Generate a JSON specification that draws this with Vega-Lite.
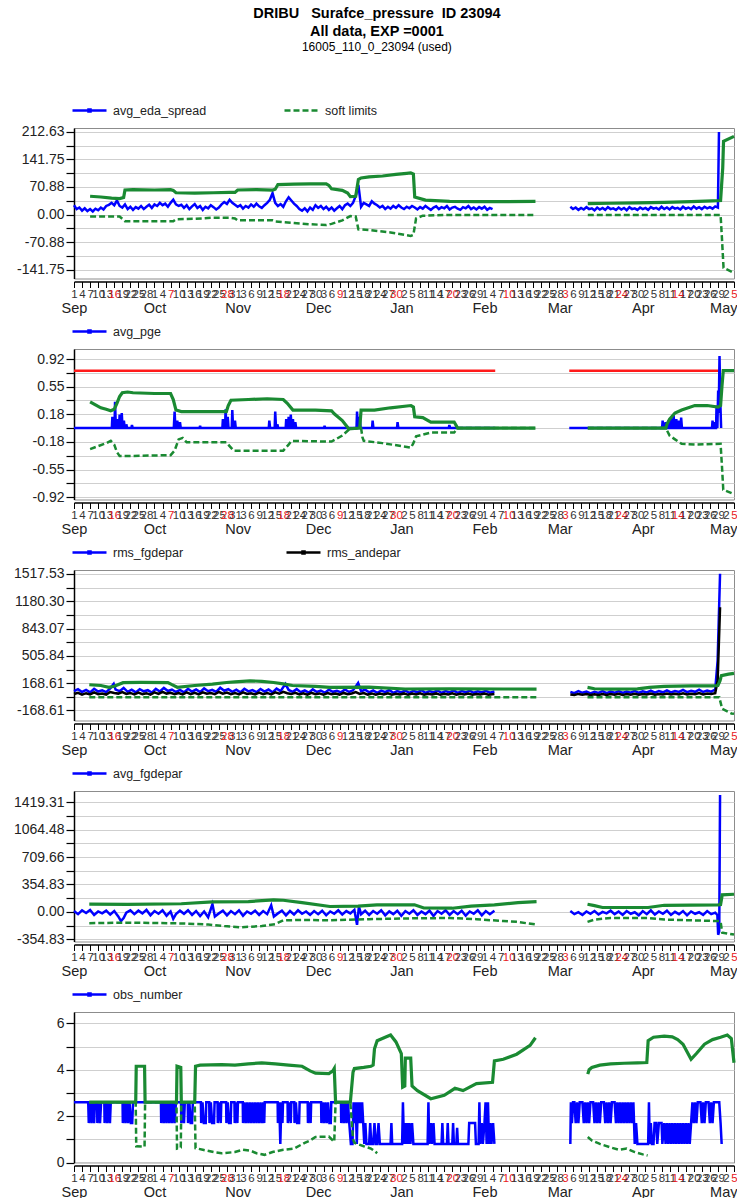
{
"$schema":"https://vega.github.io/schema/vega-lite/v6.json",
"background":"white",
"padding":{"left":12,"top":6,"right":0,"bottom":0},
"autosize":{"type":"pad"},
"bounds":"flush",
"spacing":70,
"title":{"text":["DRIBU\u00a0\u00a0\u00a0Surafce_pressure\u00a0\u00a0ID 23094","All data, EXP =0001"],"subtitle":"16005_110_0_23094 (used)","anchor":"middle","font":"Liberation Sans","fontSize":14.5,"fontWeight":"bold","lineHeight":18,"color":"#000","subtitleFont":"Liberation Sans","subtitleFontSize":12,"subtitleColor":"#000","subtitlePadding":2,"offset":38},
"config":{
 "view":{"stroke":"#8c8c8c","strokeWidth":1},
 "font":"Liberation Sans",
 "axis":{"labelFont":"Liberation Sans","labelColor":"#222","tickColor":"#000","domainColor":"#000","gridColor":"#cfcfcf","gridWidth":1},
 "axisY":{"labelFontSize":14,"tickSize":8,"labelPadding":2,"grid":true,"domainWidth":1.5,"tickWidth":1.2},
 "axisX":{"grid":false},
 "legend":{"orient":"none","legendX":-3,"legendY":-36,"direction":"horizontal","symbolType":"M-1,0H1M-0.06,-0.06H0.06V0.06H-0.06Z","symbolSize":1156,"symbolStrokeWidth":2.5,"labelFontSize":12.5,"labelFont":"Liberation Sans","labelColor":"#222","labelOffset":5,"padding":0}
},
"resolve":{"scale":{"color":"independent","x":"independent","y":"independent"}},
"datasets":{
"b1":[{"x":0,"y":24,"g":1},{"x":1,"y":14,"g":1},{"x":2,"y":18,"g":1},{"x":3,"y":10,"g":1},{"x":4,"y":16,"g":1},{"x":5,"y":9,"g":1},{"x":6,"y":14,"g":1},{"x":7,"y":8,"g":1},{"x":8,"y":15,"g":1},{"x":9,"y":11,"g":1},{"x":10,"y":18,"g":1},{"x":11,"y":13,"g":1},{"x":12,"y":22,"g":1},{"x":13,"y":25,"g":1},{"x":14,"y":30,"g":1},{"x":15,"y":24,"g":1},{"x":16,"y":36,"g":1},{"x":17,"y":22,"g":1},{"x":18,"y":18,"g":1},{"x":19,"y":26,"g":1},{"x":20,"y":14,"g":1},{"x":21,"y":20,"g":1},{"x":22,"y":12,"g":1},{"x":23,"y":19,"g":1},{"x":24,"y":15,"g":1},{"x":25,"y":22,"g":1},{"x":26,"y":14,"g":1},{"x":27,"y":20,"g":1},{"x":28,"y":25,"g":1},{"x":29,"y":17,"g":1},{"x":30,"y":26,"g":1},{"x":31,"y":22,"g":1},{"x":32,"y":30,"g":1},{"x":33,"y":24,"g":1},{"x":34,"y":28,"g":1},{"x":35,"y":20,"g":1},{"x":36,"y":30,"g":1},{"x":37,"y":38,"g":1},{"x":38,"y":26,"g":1},{"x":39,"y":22,"g":1},{"x":40,"y":25,"g":1},{"x":41,"y":17,"g":1},{"x":42,"y":24,"g":1},{"x":43,"y":14,"g":1},{"x":44,"y":21,"g":1},{"x":45,"y":27,"g":1},{"x":46,"y":17,"g":1},{"x":47,"y":22,"g":1},{"x":48,"y":12,"g":1},{"x":49,"y":20,"g":1},{"x":50,"y":16,"g":1},{"x":51,"y":24,"g":1},{"x":52,"y":19,"g":1},{"x":53,"y":13,"g":1},{"x":54,"y":18,"g":1},{"x":55,"y":26,"g":1},{"x":56,"y":32,"g":1},{"x":57,"y":27,"g":1},{"x":58,"y":38,"g":1},{"x":59,"y":30,"g":1},{"x":60,"y":25,"g":1},{"x":61,"y":20,"g":1},{"x":62,"y":24,"g":1},{"x":63,"y":15,"g":1},{"x":64,"y":22,"g":1},{"x":65,"y":18,"g":1},{"x":66,"y":26,"g":1},{"x":67,"y":20,"g":1},{"x":68,"y":28,"g":1},{"x":69,"y":21,"g":1},{"x":70,"y":17,"g":1},{"x":71,"y":24,"g":1},{"x":72,"y":30,"g":1},{"x":73,"y":38,"g":1},{"x":74,"y":55,"g":1},{"x":75,"y":30,"g":1},{"x":76,"y":22,"g":1},{"x":77,"y":27,"g":1},{"x":78,"y":20,"g":1},{"x":79,"y":34,"g":1},{"x":80,"y":44,"g":1},{"x":81,"y":36,"g":1},{"x":82,"y":28,"g":1},{"x":83,"y":22,"g":1},{"x":84,"y":14,"g":1},{"x":85,"y":10,"g":1},{"x":86,"y":16,"g":1},{"x":87,"y":8,"g":1},{"x":88,"y":18,"g":1},{"x":89,"y":12,"g":1},{"x":90,"y":24,"g":1},{"x":91,"y":17,"g":1},{"x":92,"y":22,"g":1},{"x":93,"y":14,"g":1},{"x":94,"y":20,"g":1},{"x":95,"y":12,"g":1},{"x":96,"y":18,"g":1},{"x":97,"y":10,"g":1},{"x":98,"y":16,"g":1},{"x":99,"y":22,"g":1},{"x":100,"y":14,"g":1},{"x":101,"y":24,"g":1},{"x":102,"y":28,"g":1},{"x":103,"y":22,"g":1},{"x":104,"y":30,"g":1},{"x":105,"y":48,"g":1},{"x":106,"y":76,"g":1},{"x":107,"y":20,"g":1},{"x":108,"y":30,"g":1},{"x":109,"y":26,"g":1},{"x":110,"y":22,"g":1},{"x":111,"y":34,"g":1},{"x":112,"y":28,"g":1},{"x":113,"y":24,"g":1},{"x":114,"y":18,"g":1},{"x":115,"y":22,"g":1},{"x":116,"y":14,"g":1},{"x":117,"y":20,"g":1},{"x":118,"y":15,"g":1},{"x":119,"y":22,"g":1},{"x":120,"y":17,"g":1},{"x":121,"y":24,"g":1},{"x":122,"y":18,"g":1},{"x":123,"y":14,"g":1},{"x":124,"y":20,"g":1},{"x":125,"y":16,"g":1},{"x":126,"y":22,"g":1},{"x":127,"y":18,"g":1},{"x":128,"y":13,"g":1},{"x":129,"y":19,"g":1},{"x":130,"y":15,"g":1},{"x":131,"y":22,"g":1},{"x":132,"y":17,"g":1},{"x":133,"y":12,"g":1},{"x":134,"y":18,"g":1},{"x":135,"y":21,"g":1},{"x":136,"y":14,"g":1},{"x":137,"y":19,"g":1},{"x":138,"y":16,"g":1},{"x":139,"y":22,"g":1},{"x":140,"y":13,"g":1},{"x":141,"y":18,"g":1},{"x":142,"y":20,"g":1},{"x":143,"y":15,"g":1},{"x":144,"y":12,"g":1},{"x":145,"y":19,"g":1},{"x":146,"y":16,"g":1},{"x":147,"y":22,"g":1},{"x":148,"y":14,"g":1},{"x":149,"y":18,"g":1},{"x":150,"y":13,"g":1},{"x":151,"y":19,"g":1},{"x":152,"y":15,"g":1},{"x":153,"y":20,"g":1},{"x":154,"y":12,"g":1},{"x":155,"y":17,"g":1},{"x":156,"y":14,"g":1},
{"x":185,"y":20,"g":2},{"x":186,"y":14,"g":2},{"x":187,"y":18,"g":2},{"x":188,"y":12,"g":2},{"x":189,"y":17,"g":2},{"x":190,"y":13,"g":2},{"x":191,"y":19,"g":2},{"x":192,"y":14,"g":2},{"x":193,"y":16,"g":2},{"x":194,"y":11,"g":2},{"x":195,"y":18,"g":2},{"x":196,"y":13,"g":2},{"x":197,"y":17,"g":2},{"x":198,"y":12,"g":2},{"x":199,"y":19,"g":2},{"x":200,"y":14,"g":2},{"x":201,"y":16,"g":2},{"x":202,"y":12,"g":2},{"x":203,"y":18,"g":2},{"x":204,"y":13,"g":2},{"x":205,"y":17,"g":2},{"x":206,"y":11,"g":2},{"x":207,"y":19,"g":2},{"x":208,"y":14,"g":2},{"x":209,"y":16,"g":2},{"x":210,"y":12,"g":2},{"x":211,"y":18,"g":2},{"x":212,"y":14,"g":2},{"x":213,"y":17,"g":2},{"x":214,"y":12,"g":2},{"x":215,"y":19,"g":2},{"x":216,"y":15,"g":2},{"x":217,"y":17,"g":2},{"x":218,"y":13,"g":2},{"x":219,"y":20,"g":2},{"x":220,"y":14,"g":2},{"x":221,"y":18,"g":2},{"x":222,"y":13,"g":2},{"x":223,"y":19,"g":2},{"x":224,"y":15,"g":2},{"x":225,"y":17,"g":2},{"x":226,"y":13,"g":2},{"x":227,"y":20,"g":2},{"x":228,"y":15,"g":2},{"x":229,"y":18,"g":2},{"x":230,"y":14,"g":2},{"x":231,"y":21,"g":2},{"x":232,"y":15,"g":2},{"x":233,"y":19,"g":2},{"x":234,"y":14,"g":2},{"x":235,"y":20,"g":2},{"x":236,"y":16,"g":2},{"x":237,"y":19,"g":2},{"x":238,"y":15,"g":2},{"x":239,"y":21,"g":2},{"x":240,"y":18,"g":2},{"x":240.4,"y":212,"g":2}],
"u1":[{"x":6,"y":47,"g":1},{"x":10,"y":45,"g":1},{"x":14,"y":42,"g":1},{"x":17,"y":41,"g":1},{"x":18.5,"y":44,"g":1},{"x":19,"y":63,"g":1},{"x":22,"y":64,"g":1},{"x":30,"y":63,"g":1},{"x":36,"y":64,"g":1},{"x":37,"y":62,"g":1},{"x":38,"y":56,"g":1},{"x":45,"y":55,"g":1},{"x":52,"y":56,"g":1},{"x":58,"y":57,"g":1},{"x":60,"y":57,"g":1},{"x":61,"y":63,"g":1},{"x":68,"y":64,"g":1},{"x":74,"y":63,"g":1},{"x":75,"y":65,"g":1},{"x":76,"y":77,"g":1},{"x":82,"y":78,"g":1},{"x":88,"y":79,"g":1},{"x":94,"y":79,"g":1},{"x":95,"y":75,"g":1},{"x":96,"y":66,"g":1},{"x":100,"y":62,"g":1},{"x":102,"y":55,"g":1},{"x":103,"y":46,"g":1},{"x":105,"y":47,"g":1},{"x":106,"y":90,"g":1},{"x":107,"y":94,"g":1},{"x":110,"y":97,"g":1},{"x":115,"y":99,"g":1},{"x":120,"y":103,"g":1},{"x":124,"y":106,"g":1},{"x":125.5,"y":107,"g":1},{"x":126.5,"y":104,"g":1},{"x":127,"y":45,"g":1},{"x":131,"y":37,"g":1},{"x":140,"y":34,"g":1},{"x":150,"y":33,"g":1},{"x":160,"y":33,"g":1},{"x":172,"y":34,"g":1},
{"x":191.5,"y":28,"g":2},{"x":200,"y":29,"g":2},{"x":210,"y":30,"g":2},{"x":220,"y":31,"g":2},{"x":230,"y":33,"g":2},{"x":238,"y":35,"g":2},{"x":241,"y":36,"g":2},{"x":241.8,"y":120,"g":2},{"x":242.1,"y":188,"g":2},{"x":246,"y":201,"g":2}],
"l1":[{"x":6,"y":-5,"g":1},{"x":17,"y":-5,"g":1},{"x":19,"y":-17,"g":1},{"x":37,"y":-17,"g":1},{"x":38,"y":-12,"g":1},{"x":45,"y":-11,"g":1},{"x":52,"y":-8,"g":1},{"x":58,"y":-8,"g":1},{"x":60,"y":-10,"g":1},{"x":61,"y":-15,"g":1},{"x":74,"y":-15,"g":1},{"x":75,"y":-18,"g":1},{"x":82,"y":-22,"g":1},{"x":88,"y":-25,"g":1},{"x":94,"y":-27,"g":1},{"x":96,"y":-24,"g":1},{"x":100,"y":-15,"g":1},{"x":103,"y":-4,"g":1},{"x":105,"y":-5,"g":1},{"x":106,"y":-38,"g":1},{"x":110,"y":-40,"g":1},{"x":118,"y":-46,"g":1},{"x":125.5,"y":-55,"g":1},{"x":126.5,"y":-52,"g":1},{"x":127.5,"y":-10,"g":1},{"x":130,"y":-3,"g":1},{"x":140,"y":-1,"g":1},{"x":172,"y":-1,"g":1},
{"x":191.5,"y":-1,"g":2},{"x":241,"y":-1,"g":2},{"x":241.5,"y":-60,"g":2},{"x":242.1,"y":-137,"g":2},{"x":246,"y":-150,"g":2}],
"r2":[{"x":0,"y":0.764,"g":1},{"x":157,"y":0.764,"g":1},{"x":184.6,"y":0.764,"g":2},{"x":241.2,"y":0.764,"g":2}],
"b2":[{"x":0,"y":0,"g":1},{"x":14.1,"y":0,"g":1},{"x":14.3,"y":0.15,"g":1},{"x":14.6,"y":0,"g":1},{"x":15.1,"y":0,"g":1},{"x":15.3,"y":0.35,"g":1},{"x":15.6,"y":0,"g":1},{"x":16,"y":0,"g":1},{"x":16.2,"y":0.12,"g":1},{"x":16.5,"y":0,"g":1},{"x":16.8,"y":0,"g":1},{"x":17,"y":0.18,"g":1},{"x":17.3,"y":0,"g":1},{"x":17.6,"y":0,"g":1},{"x":17.8,"y":0.2,"g":1},{"x":18.1,"y":0,"g":1},{"x":18.4,"y":0,"g":1},{"x":18.6,"y":0.1,"g":1},{"x":18.9,"y":0,"g":1},{"x":19.3,"y":0,"g":1},{"x":19.5,"y":0.05,"g":1},{"x":19.8,"y":0,"g":1},{"x":21.4,"y":0,"g":1},{"x":21.6,"y":0.04,"g":1},{"x":21.9,"y":0,"g":1},{"x":37.2,"y":0,"g":1},{"x":37.5,"y":0.22,"g":1},{"x":37.8,"y":0,"g":1},{"x":38.3,"y":0,"g":1},{"x":38.5,"y":0.1,"g":1},{"x":38.8,"y":0,"g":1},{"x":39.3,"y":0,"g":1},{"x":39.5,"y":0.08,"g":1},{"x":39.8,"y":0,"g":1},{"x":46.8,"y":0,"g":1},{"x":47,"y":0.03,"g":1},{"x":47.2,"y":0,"g":1},{"x":55.3,"y":0,"g":1},{"x":55.5,"y":0.12,"g":1},{"x":55.8,"y":0,"g":1},{"x":56.3,"y":0,"g":1},{"x":56.5,"y":0.25,"g":1},{"x":56.8,"y":0,"g":1},{"x":57.1,"y":0,"g":1},{"x":57.3,"y":0.15,"g":1},{"x":57.6,"y":0,"g":1},{"x":58.8,"y":0,"g":1},{"x":59,"y":0.24,"g":1},{"x":59.3,"y":0,"g":1},{"x":59.8,"y":0,"g":1},{"x":60,"y":0.1,"g":1},{"x":60.3,"y":0,"g":1},{"x":72.6,"y":0,"g":1},{"x":72.8,"y":0.1,"g":1},{"x":73.1,"y":0,"g":1},{"x":74.8,"y":0,"g":1},{"x":75,"y":0.22,"g":1},{"x":75.3,"y":0,"g":1},{"x":75.6,"y":0,"g":1},{"x":75.8,"y":0.05,"g":1},{"x":76.1,"y":0,"g":1},{"x":78.9,"y":0,"g":1},{"x":79.1,"y":0.12,"g":1},{"x":79.4,"y":0,"g":1},{"x":79.8,"y":0,"g":1},{"x":80,"y":0.15,"g":1},{"x":80.3,"y":0,"g":1},{"x":80.6,"y":0,"g":1},{"x":80.8,"y":0.18,"g":1},{"x":81.1,"y":0,"g":1},{"x":81.4,"y":0,"g":1},{"x":81.6,"y":0.12,"g":1},{"x":81.9,"y":0,"g":1},{"x":82.3,"y":0,"g":1},{"x":82.5,"y":0.08,"g":1},{"x":82.8,"y":0,"g":1},{"x":93.2,"y":0,"g":1},{"x":93.4,"y":0.03,"g":1},{"x":93.6,"y":0,"g":1},{"x":105.3,"y":0,"g":1},{"x":105.5,"y":0.22,"g":1},{"x":105.8,"y":0,"g":1},{"x":106.3,"y":0,"g":1},{"x":106.5,"y":0.15,"g":1},{"x":106.8,"y":0,"g":1},{"x":111.1,"y":0,"g":1},{"x":111.3,"y":0.1,"g":1},{"x":111.6,"y":0,"g":1},{"x":120.4,"y":0,"g":1},{"x":120.6,"y":0.08,"g":1},{"x":120.9,"y":0,"g":1},{"x":139.7,"y":0,"g":1},{"x":139.9,"y":0.04,"g":1},{"x":140.2,"y":0,"g":1},{"x":157,"y":0,"g":1},
{"x":184.6,"y":0,"g":2},{"x":219.2,"y":0,"g":2},{"x":219.4,"y":0.1,"g":2},{"x":219.7,"y":0,"g":2},{"x":220.3,"y":0,"g":2},{"x":220.5,"y":0.08,"g":2},{"x":220.8,"y":0,"g":2},{"x":221.3,"y":0,"g":2},{"x":221.5,"y":0.1,"g":2},{"x":221.8,"y":0,"g":2},{"x":222.3,"y":0,"g":2},{"x":222.5,"y":0.13,"g":2},{"x":222.8,"y":0,"g":2},{"x":223.3,"y":0,"g":2},{"x":223.5,"y":0.17,"g":2},{"x":223.8,"y":0,"g":2},{"x":224.3,"y":0,"g":2},{"x":224.5,"y":0.12,"g":2},{"x":224.8,"y":0,"g":2},{"x":225.3,"y":0,"g":2},{"x":225.5,"y":0.1,"g":2},{"x":225.8,"y":0,"g":2},{"x":226.1,"y":0,"g":2},{"x":226.3,"y":0.14,"g":2},{"x":226.6,"y":0,"g":2},{"x":237.8,"y":0,"g":2},{"x":238,"y":0.1,"g":2},{"x":238.3,"y":0,"g":2},{"x":238.5,"y":0,"g":2},{"x":238.7,"y":0.08,"g":2},{"x":239,"y":0,"g":2},{"x":239.3,"y":0,"g":2},{"x":239.5,"y":0.3,"g":2},{"x":239.8,"y":0,"g":2},{"x":240.1,"y":0.5,"g":2},{"x":240.3,"y":0.2,"g":2},{"x":240.6,"y":0.96,"g":2},{"x":240.9,"y":0.35,"g":2},{"x":241.2,"y":0,"g":2}],
"u2":[{"x":6,"y":0.35,"g":1},{"x":8,"y":0.31,"g":1},{"x":10,"y":0.27,"g":1},{"x":12,"y":0.25,"g":1},{"x":13.7,"y":0.23,"g":1},{"x":15,"y":0.25,"g":1},{"x":16,"y":0.33,"g":1},{"x":17,"y":0.42,"g":1},{"x":18,"y":0.47,"g":1},{"x":20,"y":0.48,"g":1},{"x":22,"y":0.47,"g":1},{"x":30,"y":0.46,"g":1},{"x":36,"y":0.46,"g":1},{"x":37,"y":0.38,"g":1},{"x":38,"y":0.24,"g":1},{"x":40,"y":0.22,"g":1},{"x":50,"y":0.22,"g":1},{"x":56.8,"y":0.22,"g":1},{"x":57.5,"y":0.3,"g":1},{"x":58.5,"y":0.37,"g":1},{"x":65,"y":0.38,"g":1},{"x":72,"y":0.39,"g":1},{"x":78,"y":0.38,"g":1},{"x":79.5,"y":0.33,"g":1},{"x":81.6,"y":0.24,"g":1},{"x":90,"y":0.24,"g":1},{"x":96,"y":0.23,"g":1},{"x":97,"y":0.19,"g":1},{"x":100,"y":0.1,"g":1},{"x":102.4,"y":-0.01,"g":1},{"x":106.5,"y":0,"g":1},{"x":107,"y":0.24,"g":1},{"x":112,"y":0.24,"g":1},{"x":118,"y":0.27,"g":1},{"x":125.6,"y":0.3,"g":1},{"x":126.5,"y":0.28,"g":1},{"x":127,"y":0.15,"g":1},{"x":130,"y":0.14,"g":1},{"x":133,"y":0.08,"g":1},{"x":141.7,"y":0.08,"g":1},{"x":143,"y":0,"g":1},{"x":172,"y":0,"g":1},
{"x":191.5,"y":0,"g":2},{"x":220.6,"y":0,"g":2},{"x":221,"y":0.05,"g":2},{"x":222,"y":0.12,"g":2},{"x":224,"y":0.2,"g":2},{"x":226.5,"y":0.24,"g":2},{"x":231.4,"y":0.3,"g":2},{"x":236,"y":0.3,"g":2},{"x":240,"y":0.28,"g":2},{"x":241,"y":0.3,"g":2},{"x":241.5,"y":0.55,"g":2},{"x":242,"y":0.764,"g":2},{"x":246,"y":0.764,"g":2}],
"l2":[{"x":6,"y":-0.28,"g":1},{"x":9,"y":-0.24,"g":1},{"x":12,"y":-0.2,"g":1},{"x":13.7,"y":-0.17,"g":1},{"x":15,"y":-0.22,"g":1},{"x":16,"y":-0.32,"g":1},{"x":17,"y":-0.37,"g":1},{"x":22,"y":-0.37,"g":1},{"x":36,"y":-0.36,"g":1},{"x":37.5,"y":-0.3,"g":1},{"x":39,"y":-0.15,"g":1},{"x":40.5,"y":-0.13,"g":1},{"x":42,"y":-0.19,"g":1},{"x":56.8,"y":-0.19,"g":1},{"x":58,"y":-0.24,"g":1},{"x":59.5,"y":-0.3,"g":1},{"x":78,"y":-0.3,"g":1},{"x":80,"y":-0.22,"g":1},{"x":81,"y":-0.17,"g":1},{"x":96,"y":-0.18,"g":1},{"x":98,"y":-0.14,"g":1},{"x":100,"y":-0.1,"g":1},{"x":102.8,"y":-0.01,"g":1},{"x":107,"y":0,"g":1},{"x":107.5,"y":-0.12,"g":1},{"x":108,"y":-0.17,"g":1},{"x":115,"y":-0.2,"g":1},{"x":125.6,"y":-0.26,"g":1},{"x":126.5,"y":-0.2,"g":1},{"x":127.5,"y":-0.11,"g":1},{"x":133,"y":-0.06,"g":1},{"x":141.7,"y":-0.06,"g":1},{"x":143,"y":0,"g":1},{"x":172,"y":0,"g":1},
{"x":191.5,"y":0,"g":2},{"x":220.6,"y":0,"g":2},{"x":222,"y":-0.1,"g":2},{"x":224,"y":-0.15,"g":2},{"x":226.5,"y":-0.21,"g":2},{"x":231.4,"y":-0.22,"g":2},{"x":241,"y":-0.21,"g":2},{"x":241.5,"y":-0.5,"g":2},{"x":242,"y":-0.82,"g":2},{"x":246,"y":-0.88,"g":2}],
"b3":[{"x":0,"y":70,"g":1},{"x":1.5,"y":95,"g":1},{"x":3,"y":60,"g":1},{"x":4.5,"y":85,"g":1},{"x":6,"y":55,"g":1},{"x":7.5,"y":100,"g":1},{"x":9,"y":65,"g":1},{"x":10.5,"y":80,"g":1},{"x":12,"y":58,"g":1},{"x":13.5,"y":105,"g":1},{"x":14.8,"y":160,"g":1},{"x":15.5,"y":90,"g":1},{"x":17,"y":70,"g":1},{"x":18.5,"y":110,"g":1},{"x":20,"y":62,"g":1},{"x":21.5,"y":88,"g":1},{"x":23,"y":55,"g":1},{"x":24.5,"y":95,"g":1},{"x":26,"y":68,"g":1},{"x":27.5,"y":82,"g":1},{"x":29,"y":52,"g":1},{"x":30.5,"y":98,"g":1},{"x":32,"y":66,"g":1},{"x":33.5,"y":110,"g":1},{"x":35,"y":72,"g":1},{"x":36.5,"y":90,"g":1},{"x":38,"y":60,"g":1},{"x":39.5,"y":85,"g":1},{"x":41,"y":55,"g":1},{"x":42.5,"y":100,"g":1},{"x":44,"y":64,"g":1},{"x":45.5,"y":92,"g":1},{"x":47,"y":58,"g":1},{"x":48.5,"y":104,"g":1},{"x":50,"y":70,"g":1},{"x":51.5,"y":86,"g":1},{"x":53,"y":60,"g":1},{"x":54.5,"y":112,"g":1},{"x":56,"y":75,"g":1},{"x":57.5,"y":95,"g":1},{"x":59,"y":62,"g":1},{"x":60.5,"y":88,"g":1},{"x":62,"y":55,"g":1},{"x":63.5,"y":100,"g":1},{"x":65,"y":68,"g":1},{"x":66.5,"y":84,"g":1},{"x":68,"y":58,"g":1},{"x":69.5,"y":96,"g":1},{"x":71,"y":64,"g":1},{"x":72.5,"y":90,"g":1},{"x":74,"y":56,"g":1},{"x":75.5,"y":102,"g":1},{"x":77,"y":70,"g":1},{"x":78.8,"y":160,"g":1},{"x":80,"y":85,"g":1},{"x":81.5,"y":62,"g":1},{"x":83,"y":95,"g":1},{"x":84.5,"y":58,"g":1},{"x":86,"y":80,"g":1},{"x":87.5,"y":52,"g":1},{"x":89,"y":92,"g":1},{"x":90.5,"y":60,"g":1},{"x":92,"y":78,"g":1},{"x":93.5,"y":50,"g":1},{"x":95,"y":88,"g":1},{"x":96.5,"y":62,"g":1},{"x":98,"y":75,"g":1},{"x":99.5,"y":55,"g":1},{"x":101,"y":90,"g":1},{"x":102.5,"y":60,"g":1},{"x":104,"y":80,"g":1},{"x":105.9,"y":172,"g":1},{"x":107,"y":70,"g":1},{"x":108.5,"y":88,"g":1},{"x":110,"y":55,"g":1},{"x":111.5,"y":80,"g":1},{"x":113,"y":50,"g":1},{"x":114.5,"y":76,"g":1},{"x":116,"y":58,"g":1},{"x":117.5,"y":84,"g":1},{"x":119,"y":50,"g":1},{"x":120.5,"y":72,"g":1},{"x":122,"y":55,"g":1},{"x":123.5,"y":80,"g":1},{"x":125,"y":48,"g":1},{"x":126.5,"y":74,"g":1},{"x":128,"y":56,"g":1},{"x":129.5,"y":82,"g":1},{"x":131,"y":50,"g":1},{"x":132.5,"y":70,"g":1},{"x":134,"y":54,"g":1},{"x":135.5,"y":78,"g":1},{"x":137,"y":48,"g":1},{"x":138.5,"y":72,"g":1},{"x":140,"y":55,"g":1},{"x":141.5,"y":80,"g":1},{"x":143,"y":50,"g":1},{"x":144.5,"y":70,"g":1},{"x":146,"y":56,"g":1},{"x":147.5,"y":76,"g":1},{"x":149,"y":50,"g":1},{"x":150.5,"y":68,"g":1},{"x":152,"y":54,"g":1},{"x":153.5,"y":74,"g":1},{"x":155,"y":52,"g":1},{"x":156.7,"y":66,"g":1},
{"x":185,"y":60,"g":2},{"x":186.5,"y":45,"g":2},{"x":188,"y":70,"g":2},{"x":189.5,"y":50,"g":2},{"x":191,"y":66,"g":2},{"x":192.5,"y":42,"g":2},{"x":194,"y":62,"g":2},{"x":195.5,"y":48,"g":2},{"x":197,"y":70,"g":2},{"x":198.5,"y":46,"g":2},{"x":200,"y":64,"g":2},{"x":201.5,"y":50,"g":2},{"x":203,"y":72,"g":2},{"x":204.5,"y":48,"g":2},{"x":206,"y":66,"g":2},{"x":207.5,"y":52,"g":2},{"x":209,"y":74,"g":2},{"x":210.5,"y":50,"g":2},{"x":212,"y":68,"g":2},{"x":213.5,"y":55,"g":2},{"x":215,"y":76,"g":2},{"x":216.5,"y":52,"g":2},{"x":218,"y":70,"g":2},{"x":219.5,"y":56,"g":2},{"x":221,"y":80,"g":2},{"x":222.5,"y":54,"g":2},{"x":224,"y":72,"g":2},{"x":225.5,"y":60,"g":2},{"x":227,"y":85,"g":2},{"x":228.5,"y":58,"g":2},{"x":230,"y":74,"g":2},{"x":231.5,"y":62,"g":2},{"x":233,"y":88,"g":2},{"x":234.5,"y":60,"g":2},{"x":236,"y":78,"g":2},{"x":237.5,"y":64,"g":2},{"x":239,"y":90,"g":2},{"x":239.9,"y":448,"g":2},{"x":240.8,"y":1520,"g":2}],
"k3":[{"x":0,"y":35,"g":1},{"x":1.5,"y":50,"g":1},{"x":3,"y":28,"g":1},{"x":4.5,"y":45,"g":1},{"x":6,"y":30,"g":1},{"x":7.5,"y":55,"g":1},{"x":9,"y":32,"g":1},{"x":10.5,"y":42,"g":1},{"x":12,"y":28,"g":1},{"x":13.5,"y":60,"g":1},{"x":15,"y":48,"g":1},{"x":16.5,"y":40,"g":1},{"x":18,"y":58,"g":1},{"x":19.5,"y":35,"g":1},{"x":21,"y":48,"g":1},{"x":22.5,"y":30,"g":1},{"x":24,"y":52,"g":1},{"x":25.5,"y":34,"g":1},{"x":27,"y":45,"g":1},{"x":28.5,"y":28,"g":1},{"x":30,"y":55,"g":1},{"x":31.5,"y":36,"g":1},{"x":33,"y":62,"g":1},{"x":34.5,"y":40,"g":1},{"x":36,"y":50,"g":1},{"x":37.5,"y":32,"g":1},{"x":39,"y":46,"g":1},{"x":40.5,"y":30,"g":1},{"x":42,"y":54,"g":1},{"x":43.5,"y":34,"g":1},{"x":45,"y":50,"g":1},{"x":46.5,"y":30,"g":1},{"x":48,"y":56,"g":1},{"x":49.5,"y":38,"g":1},{"x":51,"y":48,"g":1},{"x":52.5,"y":32,"g":1},{"x":54,"y":60,"g":1},{"x":55.5,"y":40,"g":1},{"x":57,"y":52,"g":1},{"x":58.5,"y":34,"g":1},{"x":60,"y":48,"g":1},{"x":61.5,"y":30,"g":1},{"x":63,"y":55,"g":1},{"x":64.5,"y":36,"g":1},{"x":66,"y":45,"g":1},{"x":67.5,"y":30,"g":1},{"x":69,"y":52,"g":1},{"x":70.5,"y":34,"g":1},{"x":72,"y":48,"g":1},{"x":73.5,"y":30,"g":1},{"x":75,"y":56,"g":1},{"x":76.5,"y":38,"g":1},{"x":78,"y":62,"g":1},{"x":79.5,"y":44,"g":1},{"x":81,"y":34,"g":1},{"x":82.5,"y":50,"g":1},{"x":84,"y":30,"g":1},{"x":85.5,"y":44,"g":1},{"x":87,"y":28,"g":1},{"x":88.5,"y":50,"g":1},{"x":90,"y":32,"g":1},{"x":91.5,"y":42,"g":1},{"x":93,"y":26,"g":1},{"x":94.5,"y":46,"g":1},{"x":96,"y":32,"g":1},{"x":97.5,"y":40,"g":1},{"x":99,"y":28,"g":1},{"x":100.5,"y":48,"g":1},{"x":102,"y":32,"g":1},{"x":103.5,"y":42,"g":1},{"x":105,"y":58,"g":1},{"x":106.5,"y":36,"g":1},{"x":108,"y":46,"g":1},{"x":109.5,"y":28,"g":1},{"x":111,"y":42,"g":1},{"x":112.5,"y":26,"g":1},{"x":114,"y":40,"g":1},{"x":115.5,"y":30,"g":1},{"x":117,"y":44,"g":1},{"x":118.5,"y":26,"g":1},{"x":120,"y":38,"g":1},{"x":121.5,"y":28,"g":1},{"x":123,"y":42,"g":1},{"x":124.5,"y":25,"g":1},{"x":126,"y":40,"g":1},{"x":127.5,"y":30,"g":1},{"x":129,"y":44,"g":1},{"x":130.5,"y":26,"g":1},{"x":132,"y":38,"g":1},{"x":133.5,"y":28,"g":1},{"x":135,"y":42,"g":1},{"x":136.5,"y":25,"g":1},{"x":138,"y":38,"g":1},{"x":139.5,"y":28,"g":1},{"x":141,"y":44,"g":1},{"x":142.5,"y":26,"g":1},{"x":144,"y":38,"g":1},{"x":145.5,"y":30,"g":1},{"x":147,"y":40,"g":1},{"x":148.5,"y":26,"g":1},{"x":150,"y":36,"g":1},{"x":151.5,"y":28,"g":1},{"x":153,"y":40,"g":1},{"x":154.5,"y":26,"g":1},{"x":156.7,"y":34,"g":1},
{"x":185,"y":30,"g":2},{"x":186.5,"y":22,"g":2},{"x":188,"y":36,"g":2},{"x":189.5,"y":26,"g":2},{"x":191,"y":34,"g":2},{"x":192.5,"y":22,"g":2},{"x":194,"y":32,"g":2},{"x":195.5,"y":24,"g":2},{"x":197,"y":36,"g":2},{"x":198.5,"y":24,"g":2},{"x":200,"y":34,"g":2},{"x":201.5,"y":26,"g":2},{"x":203,"y":38,"g":2},{"x":204.5,"y":24,"g":2},{"x":206,"y":34,"g":2},{"x":207.5,"y":26,"g":2},{"x":209,"y":38,"g":2},{"x":210.5,"y":26,"g":2},{"x":212,"y":36,"g":2},{"x":213.5,"y":28,"g":2},{"x":215,"y":40,"g":2},{"x":216.5,"y":26,"g":2},{"x":218,"y":36,"g":2},{"x":219.5,"y":28,"g":2},{"x":221,"y":42,"g":2},{"x":222.5,"y":28,"g":2},{"x":224,"y":38,"g":2},{"x":225.5,"y":30,"g":2},{"x":227,"y":44,"g":2},{"x":228.5,"y":30,"g":2},{"x":230,"y":38,"g":2},{"x":231.5,"y":32,"g":2},{"x":233,"y":46,"g":2},{"x":234.5,"y":30,"g":2},{"x":236,"y":40,"g":2},{"x":237.5,"y":34,"g":2},{"x":239,"y":46,"g":2},{"x":239.9,"y":200,"g":2},{"x":240.8,"y":1107,"g":2}],
"u3":[{"x":5.7,"y":149,"g":1},{"x":10,"y":140,"g":1},{"x":13,"y":118,"g":1},{"x":15,"y":130,"g":1},{"x":18.3,"y":175,"g":1},{"x":25,"y":178,"g":1},{"x":35,"y":176,"g":1},{"x":36.5,"y":150,"g":1},{"x":38.5,"y":118,"g":1},{"x":45,"y":140,"g":1},{"x":51.6,"y":157,"g":1},{"x":56.9,"y":177,"g":1},{"x":60,"y":185,"g":1},{"x":65.6,"y":198,"g":1},{"x":70,"y":190,"g":1},{"x":74.4,"y":177,"g":1},{"x":78,"y":160,"g":1},{"x":81.4,"y":140,"g":1},{"x":90,"y":128,"g":1},{"x":95.4,"y":118,"g":1},{"x":110,"y":120,"g":1},{"x":123.4,"y":97,"g":1},{"x":140,"y":98,"g":1},{"x":160,"y":97,"g":1},{"x":172.4,"y":95,"g":1},
{"x":191.4,"y":116,"g":2},{"x":194,"y":100,"g":2},{"x":200,"y":95,"g":2},{"x":210,"y":98,"g":2},{"x":214.5,"y":116,"g":2},{"x":220,"y":130,"g":2},{"x":230,"y":135,"g":2},{"x":238,"y":135,"g":2},{"x":240,"y":140,"g":2},{"x":240.8,"y":200,"g":2},{"x":241.3,"y":262,"g":2},{"x":244,"y":280,"g":2},{"x":246,"y":290,"g":2}],
"l3":[{"x":5.7,"y":-4,"g":1},{"x":172.4,"y":-4,"g":1},{"x":191.4,"y":-4,"g":2},{"x":240.5,"y":-4,"g":2},{"x":241.6,"y":-148,"g":2},{"x":245,"y":-205,"g":2},{"x":246,"y":-210,"g":2}],
"b4":[{"x":0,"y":10,"g":1},{"x":1.5,"y":-30,"g":1},{"x":3,"y":20,"g":1},{"x":4.5,"y":-15,"g":1},{"x":6,"y":25,"g":1},{"x":7.5,"y":-40,"g":1},{"x":9,"y":5,"g":1},{"x":10.5,"y":-20,"g":1},{"x":12,"y":15,"g":1},{"x":13.5,"y":-35,"g":1},{"x":15,"y":10,"g":1},{"x":16.5,"y":-60,"g":1},{"x":17.5,"y":-120,"g":1},{"x":18.5,"y":-80,"g":1},{"x":19.5,"y":-10,"g":1},{"x":21,"y":20,"g":1},{"x":22.5,"y":-30,"g":1},{"x":24,"y":15,"g":1},{"x":25.5,"y":-20,"g":1},{"x":27,"y":25,"g":1},{"x":28.5,"y":-45,"g":1},{"x":30,"y":10,"g":1},{"x":31.5,"y":-25,"g":1},{"x":33,"y":20,"g":1},{"x":34.5,"y":-50,"g":1},{"x":36,"y":5,"g":1},{"x":37,"y":-90,"g":1},{"x":38,"y":-30,"g":1},{"x":39.5,"y":15,"g":1},{"x":41,"y":-25,"g":1},{"x":42.5,"y":20,"g":1},{"x":44,"y":-40,"g":1},{"x":45.5,"y":10,"g":1},{"x":47,"y":-55,"g":1},{"x":48.5,"y":5,"g":1},{"x":50,"y":-70,"g":1},{"x":51.6,"y":100,"g":1},{"x":52.5,"y":-60,"g":1},{"x":54,"y":-20,"g":1},{"x":55.5,"y":15,"g":1},{"x":57,"y":-45,"g":1},{"x":58.5,"y":10,"g":1},{"x":60,"y":-30,"g":1},{"x":61.5,"y":20,"g":1},{"x":63,"y":-50,"g":1},{"x":64.5,"y":5,"g":1},{"x":66,"y":-25,"g":1},{"x":67.5,"y":15,"g":1},{"x":69,"y":-40,"g":1},{"x":70.5,"y":10,"g":1},{"x":72,"y":-30,"g":1},{"x":73.5,"y":85,"g":1},{"x":74.5,"y":-60,"g":1},{"x":76,"y":-20,"g":1},{"x":77.5,"y":15,"g":1},{"x":79,"y":-45,"g":1},{"x":80.5,"y":10,"g":1},{"x":82,"y":-35,"g":1},{"x":83.5,"y":20,"g":1},{"x":85,"y":-25,"g":1},{"x":86.5,"y":5,"g":1},{"x":88,"y":-40,"g":1},{"x":89.5,"y":10,"g":1},{"x":91,"y":-30,"g":1},{"x":92.5,"y":15,"g":1},{"x":94,"y":-45,"g":1},{"x":95.5,"y":5,"g":1},{"x":97,"y":-25,"g":1},{"x":98.5,"y":20,"g":1},{"x":100,"y":-35,"g":1},{"x":101.5,"y":10,"g":1},{"x":103,"y":-20,"g":1},{"x":104.5,"y":25,"g":1},{"x":105.5,"y":-169,"g":1},{"x":106.2,"y":69,"g":1},{"x":107,"y":-30,"g":1},{"x":108.5,"y":15,"g":1},{"x":110,"y":-40,"g":1},{"x":111.5,"y":10,"g":1},{"x":113,"y":-25,"g":1},{"x":114.5,"y":20,"g":1},{"x":116,"y":-45,"g":1},{"x":117.5,"y":5,"g":1},{"x":119,"y":-30,"g":1},{"x":120.5,"y":15,"g":1},{"x":122,"y":-50,"g":1},{"x":123.5,"y":10,"g":1},{"x":125,"y":-25,"g":1},{"x":126.5,"y":20,"g":1},{"x":128,"y":-40,"g":1},{"x":129.5,"y":5,"g":1},{"x":131,"y":-30,"g":1},{"x":132.5,"y":15,"g":1},{"x":134,"y":-55,"g":1},{"x":135.5,"y":10,"g":1},{"x":137,"y":-25,"g":1},{"x":138.5,"y":20,"g":1},{"x":140,"y":-40,"g":1},{"x":141.5,"y":10,"g":1},{"x":143,"y":-30,"g":1},{"x":144.5,"y":15,"g":1},{"x":146,"y":-50,"g":1},{"x":147.5,"y":5,"g":1},{"x":149,"y":-25,"g":1},{"x":150.5,"y":20,"g":1},{"x":152,"y":-45,"g":1},{"x":153.5,"y":10,"g":1},{"x":155,"y":-30,"g":1},{"x":156.7,"y":15,"g":1},
{"x":185,"y":10,"g":2},{"x":186.5,"y":-30,"g":2},{"x":188,"y":-5,"g":2},{"x":189.5,"y":-40,"g":2},{"x":191,"y":5,"g":2},{"x":192.5,"y":-25,"g":2},{"x":194,"y":10,"g":2},{"x":195.5,"y":-35,"g":2},{"x":197,"y":0,"g":2},{"x":198.5,"y":-20,"g":2},{"x":200,"y":15,"g":2},{"x":201.5,"y":-30,"g":2},{"x":203,"y":5,"g":2},{"x":204.5,"y":-40,"g":2},{"x":206,"y":10,"g":2},{"x":207.5,"y":-25,"g":2},{"x":209,"y":-5,"g":2},{"x":210.5,"y":-45,"g":2},{"x":212,"y":10,"g":2},{"x":213.5,"y":-30,"g":2},{"x":215,"y":20,"g":2},{"x":216.5,"y":-35,"g":2},{"x":218,"y":5,"g":2},{"x":219.5,"y":-25,"g":2},{"x":221,"y":15,"g":2},{"x":222.5,"y":-40,"g":2},{"x":224,"y":0,"g":2},{"x":225.5,"y":-30,"g":2},{"x":227,"y":10,"g":2},{"x":228.5,"y":-45,"g":2},{"x":230,"y":5,"g":2},{"x":231.5,"y":-25,"g":2},{"x":233,"y":-5,"g":2},{"x":234.5,"y":-40,"g":2},{"x":236,"y":10,"g":2},{"x":237.5,"y":-30,"g":2},{"x":239,"y":-10,"g":2},{"x":239.8,"y":-40,"g":2},{"x":240.1,"y":-298,"g":2},{"x":240.5,"y":-250,"g":2},{"x":240.8,"y":1515,"g":2}],
"u4":[{"x":5.7,"y":100,"g":1},{"x":20,"y":98,"g":1},{"x":40,"y":105,"g":1},{"x":51.6,"y":128,"g":1},{"x":65,"y":133,"g":1},{"x":74.4,"y":155,"g":1},{"x":78,"y":150,"g":1},{"x":85,"y":120,"g":1},{"x":95.4,"y":69,"g":1},{"x":105.9,"y":75,"g":1},{"x":112.9,"y":91,"g":1},{"x":126.9,"y":91,"g":1},{"x":130.4,"y":50,"g":1},{"x":141,"y":47,"g":1},{"x":148,"y":75,"g":1},{"x":156.7,"y":91,"g":1},{"x":165.5,"y":120,"g":1},{"x":172.4,"y":133,"g":1},
{"x":191.4,"y":98,"g":2},{"x":194,"y":80,"g":2},{"x":197,"y":56,"g":2},{"x":214,"y":56,"g":2},{"x":220,"y":85,"g":2},{"x":240,"y":91,"g":2},{"x":241,"y":95,"g":2},{"x":241.6,"y":220,"g":2},{"x":246,"y":228,"g":2}],
"l4":[{"x":5.7,"y":-147,"g":1},{"x":20,"y":-140,"g":1},{"x":40,"y":-150,"g":1},{"x":50,"y":-165,"g":1},{"x":56,"y":-185,"g":1},{"x":62,"y":-200,"g":1},{"x":70,"y":-185,"g":1},{"x":75,"y":-160,"g":1},{"x":78,"y":-110,"g":1},{"x":85,"y":-105,"g":1},{"x":95,"y":-110,"g":1},{"x":110,"y":-95,"g":1},{"x":125,"y":-85,"g":1},{"x":140,"y":-80,"g":1},{"x":150,"y":-95,"g":1},{"x":160,"y":-120,"g":1},{"x":165,"y":-130,"g":1},{"x":172.4,"y":-165,"g":1},
{"x":191.4,"y":-130,"g":2},{"x":194,"y":-100,"g":2},{"x":200,"y":-80,"g":2},{"x":214,"y":-80,"g":2},{"x":220,"y":-100,"g":2},{"x":240,"y":-120,"g":2},{"x":241,"y":-125,"g":2},{"x":241.6,"y":-270,"g":2},{"x":246,"y":-295,"g":2}],
"b5":[{"x":0,"y":2.6,"g":1},{"x":5.3,"y":2.6,"g":1},{"x":5.5,"y":1.7,"g":1},{"x":6,"y":2.6,"g":1},{"x":6.5,"y":1.7,"g":1},{"x":7,"y":2.6,"g":1},{"x":7.5,"y":1.7,"g":1},{"x":7.8,"y":2.6,"g":1},{"x":8.6,"y":2.6,"g":1},{"x":8.7,"y":1.7,"g":1},{"x":9.2,"y":2.6,"g":1},{"x":9.7,"y":1.7,"g":1},{"x":10.1,"y":2.6,"g":1},{"x":11.3,"y":2.6,"g":1},{"x":11.4,"y":1.7,"g":1},{"x":11.9,"y":2.6,"g":1},{"x":12.4,"y":1.7,"g":1},{"x":12.9,"y":2.6,"g":1},{"x":13.4,"y":1.7,"g":1},{"x":13.7,"y":2.6,"g":1},{"x":18.1,"y":2.6,"g":1},{"x":18.2,"y":1.7,"g":1},{"x":18.7,"y":2.6,"g":1},{"x":19.2,"y":1.7,"g":1},{"x":19.7,"y":2.6,"g":1},{"x":20.2,"y":1.7,"g":1},{"x":20.7,"y":2.6,"g":1},{"x":21.2,"y":1.7,"g":1},{"x":21.7,"y":1.7,"g":1},{"x":22,"y":2.6,"g":1},{"x":32.4,"y":2.6,"g":1},{"x":32.5,"y":1.7,"g":1},{"x":33,"y":2.6,"g":1},{"x":33.5,"y":1.7,"g":1},{"x":34,"y":2.6,"g":1},{"x":34.5,"y":1.7,"g":1},{"x":35,"y":2.6,"g":1},{"x":35.5,"y":1.7,"g":1},{"x":36,"y":2.6,"g":1},{"x":36.5,"y":1.7,"g":1},{"x":37,"y":2.6,"g":1},{"x":37.5,"y":1.7,"g":1},{"x":38,"y":2.6,"g":1},{"x":39.9,"y":2.6,"g":1},{"x":40,"y":1.7,"g":1},{"x":40.5,"y":2.6,"g":1},{"x":41,"y":1.7,"g":1},{"x":41.3,"y":2.6,"g":1},{"x":42.4,"y":2.6,"g":1},{"x":42.5,"y":1.7,"g":1},{"x":43,"y":2.6,"g":1},{"x":43.5,"y":1.7,"g":1},{"x":44,"y":1.7,"g":1},{"x":44.3,"y":2.6,"g":1},{"x":47.3,"y":2.6,"g":1},{"x":47.4,"y":1.7,"g":1},{"x":47.9,"y":2.6,"g":1},{"x":48.4,"y":1.7,"g":1},{"x":49.1,"y":1.7,"g":1},{"x":49.3,"y":2.6,"g":1},{"x":50.4,"y":2.6,"g":1},{"x":50.5,"y":1.7,"g":1},{"x":51,"y":2.6,"g":1},{"x":51.5,"y":1.7,"g":1},{"x":52.2,"y":1.7,"g":1},{"x":52.4,"y":2.6,"g":1},{"x":53.5,"y":2.6,"g":1},{"x":53.6,"y":1.7,"g":1},{"x":54.1,"y":2.6,"g":1},{"x":54.7,"y":1.7,"g":1},{"x":54.9,"y":2.6,"g":1},{"x":56.7,"y":2.6,"g":1},{"x":56.8,"y":1.7,"g":1},{"x":57.3,"y":2.6,"g":1},{"x":57.8,"y":1.7,"g":1},{"x":58.4,"y":1.7,"g":1},{"x":58.6,"y":2.6,"g":1},{"x":59.8,"y":2.6,"g":1},{"x":59.9,"y":1.7,"g":1},{"x":60.4,"y":2.6,"g":1},{"x":60.9,"y":1.7,"g":1},{"x":61.1,"y":2.6,"g":1},{"x":62.9,"y":2.6,"g":1},{"x":63,"y":1.7,"g":1},{"x":63.5,"y":2.6,"g":1},{"x":64,"y":1.7,"g":1},{"x":64.5,"y":2.6,"g":1},{"x":65,"y":1.7,"g":1},{"x":65.5,"y":2.6,"g":1},{"x":66,"y":1.7,"g":1},{"x":66.5,"y":2.6,"g":1},{"x":67,"y":1.7,"g":1},{"x":67.5,"y":2.6,"g":1},{"x":68,"y":1.7,"g":1},{"x":68.5,"y":2.6,"g":1},{"x":69,"y":1.7,"g":1},{"x":69.5,"y":2.6,"g":1},{"x":70,"y":1.7,"g":1},{"x":70.5,"y":2.6,"g":1},{"x":70.9,"y":1.7,"g":1},{"x":71.1,"y":2.6,"g":1},{"x":75.9,"y":2.6,"g":1},{"x":76,"y":1.7,"g":1},{"x":76.5,"y":2.6,"g":1},{"x":76.9,"y":0.8,"g":1},{"x":77.3,"y":2.6,"g":1},{"x":77.7,"y":1.7,"g":1},{"x":77.9,"y":2.6,"g":1},{"x":79.6,"y":2.6,"g":1},{"x":79.7,"y":1.7,"g":1},{"x":80.2,"y":2.6,"g":1},{"x":80.8,"y":1.7,"g":1},{"x":81,"y":2.6,"g":1},{"x":82.1,"y":2.6,"g":1},{"x":82.2,"y":1.7,"g":1},{"x":82.7,"y":2.6,"g":1},{"x":83.2,"y":1.7,"g":1},{"x":83.9,"y":1.7,"g":1},{"x":84.1,"y":2.6,"g":1},{"x":87.1,"y":2.6,"g":1},{"x":87.2,"y":1.7,"g":1},{"x":87.7,"y":2.6,"g":1},{"x":88.2,"y":1.7,"g":1},{"x":88.4,"y":2.6,"g":1},{"x":92.1,"y":2.6,"g":1},{"x":92.2,"y":1.7,"g":1},{"x":92.7,"y":2.6,"g":1},{"x":93.2,"y":1.7,"g":1},{"x":93.7,"y":2.6,"g":1},{"x":94.2,"y":1.7,"g":1},{"x":94.7,"y":2.6,"g":1},{"x":95.2,"y":1.7,"g":1},{"x":95.7,"y":1.7,"g":1},{"x":95.9,"y":2.6,"g":1},{"x":99.5,"y":2.6,"g":1},{"x":99.6,"y":1.7,"g":1},{"x":100.1,"y":2.6,"g":1},{"x":100.6,"y":1.7,"g":1},{"x":101.1,"y":2.6,"g":1},{"x":101.6,"y":1.7,"g":1},{"x":102.1,"y":2.6,"g":1},{"x":102.6,"y":1.7,"g":1},{"x":103.2,"y":0.8,"g":1},{"x":103.8,"y":0.8,"g":1},{"x":104.2,"y":2.6,"g":1},{"x":104.6,"y":1.7,"g":1},{"x":105,"y":2.6,"g":1},{"x":105.4,"y":0.8,"g":1},{"x":105.8,"y":2.6,"g":1},{"x":106.2,"y":1.7,"g":1},{"x":106.6,"y":2.6,"g":1},{"x":107,"y":1.7,"g":1},{"x":107.4,"y":2.6,"g":1},{"x":107.8,"y":1.7,"g":1},{"x":108.2,"y":0.8,"g":1},{"x":108.6,"y":1.7,"g":1},{"x":109,"y":0.8,"g":1},{"x":110,"y":0.8,"g":1},{"x":110.4,"y":1.7,"g":1},{"x":110.8,"y":0.8,"g":1},{"x":111.5,"y":0.8,"g":1},{"x":112,"y":1.7,"g":1},{"x":112.5,"y":0.8,"g":1},{"x":113,"y":0.8,"g":1},{"x":113.5,"y":1.7,"g":1},{"x":114,"y":0.8,"g":1},{"x":118,"y":0.8,"g":1},{"x":118.3,"y":1.7,"g":1},{"x":118.6,"y":0.8,"g":1},{"x":122.3,"y":0.8,"g":1},{"x":122.6,"y":2.6,"g":1},{"x":123,"y":0.8,"g":1},{"x":123.4,"y":1.7,"g":1},{"x":123.8,"y":0.8,"g":1},{"x":124.2,"y":1.7,"g":1},{"x":124.6,"y":0.8,"g":1},{"x":125,"y":1.7,"g":1},{"x":125.4,"y":0.8,"g":1},{"x":126,"y":1.7,"g":1},{"x":126.5,"y":0.8,"g":1},{"x":131.8,"y":0.8,"g":1},{"x":132.1,"y":2.6,"g":1},{"x":132.4,"y":0.8,"g":1},{"x":133,"y":1.7,"g":1},{"x":133.4,"y":0.8,"g":1},{"x":134,"y":1.7,"g":1},{"x":134.4,"y":0.8,"g":1},{"x":137,"y":0.8,"g":1},{"x":137.3,"y":1.7,"g":1},{"x":137.6,"y":0.8,"g":1},{"x":139,"y":0.8,"g":1},{"x":139.3,"y":1.7,"g":1},{"x":139.6,"y":0.8,"g":1},{"x":141,"y":0.8,"g":1},{"x":141.3,"y":1.7,"g":1},{"x":141.6,"y":0.8,"g":1},{"x":142.5,"y":0.8,"g":1},{"x":142.8,"y":1.5,"g":1},{"x":143.1,"y":0.8,"g":1},{"x":147,"y":0.8,"g":1},{"x":147.3,"y":1.7,"g":1},{"x":149.5,"y":1.7,"g":1},{"x":149.8,"y":0.8,"g":1},{"x":150.8,"y":0.8,"g":1},{"x":151.1,"y":2.6,"g":1},{"x":151.4,"y":0.8,"g":1},{"x":152,"y":1.7,"g":1},{"x":152.4,"y":0.8,"g":1},{"x":153,"y":1.7,"g":1},{"x":153.4,"y":2.6,"g":1},{"x":153.8,"y":0.8,"g":1},{"x":154.3,"y":2.6,"g":1},{"x":154.7,"y":0.8,"g":1},{"x":155.2,"y":1.7,"g":1},{"x":155.6,"y":0.8,"g":1},{"x":156.2,"y":1.7,"g":1},{"x":156.7,"y":0.8,"g":1},
{"x":185,"y":0.8,"g":2},{"x":185.2,"y":2.6,"g":2},{"x":185.6,"y":1.7,"g":2},{"x":186,"y":2.6,"g":2},{"x":186.5,"y":2.6,"g":2},{"x":187,"y":1.7,"g":2},{"x":187.5,"y":2.6,"g":2},{"x":188,"y":1.7,"g":2},{"x":188.5,"y":2.6,"g":2},{"x":189.5,"y":2.6,"g":2},{"x":190,"y":1.7,"g":2},{"x":190.5,"y":2.6,"g":2},{"x":191,"y":1.7,"g":2},{"x":191.5,"y":2.6,"g":2},{"x":192,"y":1.7,"g":2},{"x":192.5,"y":2.6,"g":2},{"x":193.5,"y":2.6,"g":2},{"x":194,"y":1.7,"g":2},{"x":194.5,"y":2.6,"g":2},{"x":195,"y":1.7,"g":2},{"x":195.5,"y":2.6,"g":2},{"x":196,"y":1.7,"g":2},{"x":196.5,"y":2.6,"g":2},{"x":197.5,"y":2.6,"g":2},{"x":198,"y":1.7,"g":2},{"x":198.5,"y":2.6,"g":2},{"x":199,"y":1.7,"g":2},{"x":199.5,"y":2.6,"g":2},{"x":200,"y":1.7,"g":2},{"x":200.5,"y":2.6,"g":2},{"x":201.5,"y":2.6,"g":2},{"x":202,"y":1.7,"g":2},{"x":202.5,"y":2.6,"g":2},{"x":203,"y":1.7,"g":2},{"x":203.5,"y":2.6,"g":2},{"x":204,"y":1.7,"g":2},{"x":204.5,"y":2.6,"g":2},{"x":205,"y":1.7,"g":2},{"x":205.5,"y":2.6,"g":2},{"x":206,"y":1.7,"g":2},{"x":206.5,"y":2.6,"g":2},{"x":207,"y":1.7,"g":2},{"x":207.5,"y":2.6,"g":2},{"x":208,"y":1.7,"g":2},{"x":208.5,"y":2.6,"g":2},{"x":209,"y":0.8,"g":2},{"x":209.5,"y":1.7,"g":2},{"x":210,"y":0.8,"g":2},{"x":214,"y":0.8,"g":2},{"x":214.3,"y":2.6,"g":2},{"x":214.6,"y":0.8,"g":2},{"x":215,"y":1.7,"g":2},{"x":215.4,"y":0.8,"g":2},{"x":216,"y":0.8,"g":2},{"x":216.4,"y":1.7,"g":2},{"x":217,"y":1.7,"g":2},{"x":217.4,"y":0.8,"g":2},{"x":218,"y":1.7,"g":2},{"x":219,"y":1.7,"g":2},{"x":219.3,"y":0.8,"g":2},{"x":220,"y":1.7,"g":2},{"x":220.5,"y":0.8,"g":2},{"x":221,"y":1.7,"g":2},{"x":221.5,"y":0.8,"g":2},{"x":222,"y":1.7,"g":2},{"x":222.5,"y":0.8,"g":2},{"x":223,"y":1.7,"g":2},{"x":223.5,"y":0.8,"g":2},{"x":224,"y":1.7,"g":2},{"x":224.5,"y":0.8,"g":2},{"x":225,"y":1.7,"g":2},{"x":225.5,"y":0.8,"g":2},{"x":226,"y":1.7,"g":2},{"x":226.5,"y":0.8,"g":2},{"x":227,"y":1.7,"g":2},{"x":227.5,"y":0.8,"g":2},{"x":228,"y":1.7,"g":2},{"x":228.5,"y":0.8,"g":2},{"x":229,"y":1.7,"g":2},{"x":229.5,"y":0.8,"g":2},{"x":230,"y":1.7,"g":2},{"x":230.5,"y":2.6,"g":2},{"x":231,"y":1.7,"g":2},{"x":231.5,"y":2.6,"g":2},{"x":232,"y":1.7,"g":2},{"x":232.5,"y":2.6,"g":2},{"x":233.5,"y":2.6,"g":2},{"x":234,"y":1.7,"g":2},{"x":234.5,"y":2.6,"g":2},{"x":235,"y":1.7,"g":2},{"x":235.5,"y":2.6,"g":2},{"x":236.5,"y":2.6,"g":2},{"x":237,"y":1.7,"g":2},{"x":237.5,"y":2.6,"g":2},{"x":238,"y":1.7,"g":2},{"x":238.5,"y":2.6,"g":2},{"x":240.5,"y":2.6,"g":2},{"x":241,"y":1.7,"g":2},{"x":241.4,"y":0.8,"g":2}],
"u5":[{"x":5.7,"y":2.6,"g":1},{"x":23,"y":2.6,"g":1},{"x":23.2,"y":4.15,"g":1},{"x":26.3,"y":4.15,"g":1},{"x":26.5,"y":2.6,"g":1},{"x":38.2,"y":2.6,"g":1},{"x":38.4,"y":4.15,"g":1},{"x":39.8,"y":4.1,"g":1},{"x":40,"y":2.6,"g":1},{"x":45,"y":2.6,"g":1},{"x":45.3,"y":4.15,"g":1},{"x":47,"y":4.2,"g":1},{"x":55,"y":4.22,"g":1},{"x":60,"y":4.2,"g":1},{"x":65,"y":4.25,"g":1},{"x":70,"y":4.3,"g":1},{"x":75,"y":4.25,"g":1},{"x":80,"y":4.2,"g":1},{"x":85,"y":4.15,"g":1},{"x":88,"y":3.95,"g":1},{"x":90,"y":3.85,"g":1},{"x":95,"y":3.83,"g":1},{"x":96.5,"y":3.95,"g":1},{"x":97,"y":4.05,"g":1},{"x":97.5,"y":2.6,"g":1},{"x":103,"y":2.6,"g":1},{"x":104,"y":3.9,"g":1},{"x":104.5,"y":4.05,"g":1},{"x":108,"y":4.1,"g":1},{"x":110.7,"y":4.15,"g":1},{"x":111.5,"y":4.2,"g":1},{"x":112,"y":4.9,"g":1},{"x":113,"y":5.25,"g":1},{"x":116,"y":5.4,"g":1},{"x":118,"y":5.5,"g":1},{"x":120,"y":5.2,"g":1},{"x":122,"y":4.7,"g":1},{"x":122.5,"y":3.25,"g":1},{"x":123.3,"y":3.3,"g":1},{"x":123.5,"y":4.5,"g":1},{"x":125.5,"y":4.5,"g":1},{"x":126,"y":3.3,"g":1},{"x":128,"y":3.1,"g":1},{"x":133,"y":2.75,"g":1},{"x":138,"y":2.9,"g":1},{"x":142,"y":3.2,"g":1},{"x":145,"y":3.1,"g":1},{"x":150,"y":3.4,"g":1},{"x":156,"y":3.46,"g":1},{"x":156.7,"y":4.38,"g":1},{"x":160,"y":4.45,"g":1},{"x":165,"y":4.67,"g":1},{"x":170,"y":5.05,"g":1},{"x":172,"y":5.38,"g":1},
{"x":191.5,"y":3.81,"g":2},{"x":192,"y":4.0,"g":2},{"x":193,"y":4.1,"g":2},{"x":196,"y":4.2,"g":2},{"x":200,"y":4.25,"g":2},{"x":205,"y":4.28,"g":2},{"x":210,"y":4.3,"g":2},{"x":213.5,"y":4.31,"g":2},{"x":214,"y":5.25,"g":2},{"x":216,"y":5.4,"g":2},{"x":220,"y":5.45,"g":2},{"x":223,"y":5.42,"g":2},{"x":225,"y":5.3,"g":2},{"x":227,"y":5.1,"g":2},{"x":230,"y":4.45,"g":2},{"x":232,"y":4.7,"g":2},{"x":235,"y":5.1,"g":2},{"x":238,"y":5.3,"g":2},{"x":241,"y":5.4,"g":2},{"x":243.5,"y":5.5,"g":2},{"x":245,"y":5.35,"g":2},{"x":246,"y":4.3,"g":2}],
"l5":[{"x":5.7,"y":2.6,"g":1},{"x":23,"y":2.6,"g":1},{"x":23.2,"y":0.7,"g":1},{"x":26.3,"y":0.68,"g":1},{"x":26.5,"y":2.6,"g":1},{"x":38.2,"y":2.6,"g":1},{"x":38.4,"y":0.6,"g":1},{"x":39.8,"y":0.65,"g":1},{"x":40,"y":2.6,"g":1},{"x":45,"y":2.6,"g":1},{"x":45.3,"y":0.62,"g":1},{"x":48,"y":0.55,"g":1},{"x":52,"y":0.45,"g":1},{"x":55,"y":0.4,"g":1},{"x":60,"y":0.45,"g":1},{"x":63,"y":0.55,"g":1},{"x":66,"y":0.5,"g":1},{"x":68,"y":0.4,"g":1},{"x":71,"y":0.33,"g":1},{"x":74,"y":0.45,"g":1},{"x":78,"y":0.55,"g":1},{"x":82,"y":0.6,"g":1},{"x":86,"y":0.85,"g":1},{"x":88,"y":0.95,"g":1},{"x":90,"y":1.1,"g":1},{"x":95,"y":1.12,"g":1},{"x":96.5,"y":0.95,"g":1},{"x":97,"y":0.9,"g":1},{"x":97.5,"y":2.6,"g":1},{"x":103,"y":2.6,"g":1},{"x":104,"y":1.0,"g":1},{"x":104.5,"y":0.85,"g":1},{"x":108,"y":0.7,"g":1},{"x":110.7,"y":0.6,"g":1},{"x":112,"y":0.5,"g":1},{"x":113,"y":0.4,"g":1},
{"x":191.5,"y":1.1,"g":2},{"x":193,"y":0.95,"g":2},{"x":196,"y":0.8,"g":2},{"x":200,"y":0.65,"g":2},{"x":203,"y":0.55,"g":2},{"x":206,"y":0.6,"g":2},{"x":209,"y":0.45,"g":2},{"x":212,"y":0.35,"g":2},{"x":213.8,"y":0.3,"g":2}]
},
"vconcat":[
{"width":660,"height":150.5,
 "encoding":{
  "x":{"field":"x","type":"quantitative","scale":{"domain":[0,246],"nice":false,"zero":false},"axis":null},
  "y":{"field":"y","type":"quantitative","scale":{"domain":[-164.4,222.4],"nice":false,"zero":false},"axis":{"title":null,"values":[212.63,177.19,141.75,106.31,70.88,35.44,0,-35.44,-70.88,-106.31,-141.75],"labelExpr":"indexof([212.63,141.75,70.88,0,-70.88,-141.75], datum.value) >= 0 ? replace(format(datum.value,'.2f'),'\u2212','-') : ''"}}
 },
 "resolve":{"axis":{"x":"independent"}},
 "layer":[
  {"mark":{"type":"rule","color":"#6b6b6b","strokeWidth":3},"encoding":{"x":{"datum":0,"axis":{"orient":"bottom","offset":3,"title":null,"values":[0,3,6,9,12,15,18,21,24,27,30,33,36,39,42,45,48,51,54,57,60,63,66,69,72,75,78,81,84,87,90,93,96,99,102,105,108,111,114,117,120,123,126,129,132,135,138,141,144,147,150,153,156,159,162,165,168,171,174,177,180,183,186,189,192,195,198,201,204,207,210,213,216,219,222,225,228,231,234,237,240,243,246],"tickSize":6,"labelFontSize":11.5,"labelPadding":1,"labelOverlap":false,"labelFlush":false,"domainWidth":1.5,"labelExpr":"'' + utcdate(1535760000000 + datum.value*864e5)","labelColor":{"condition":{"test":"utcday(1535760000000 + datum.value*864e5) == 0","value":"#e8201e"},"value":"#333"}}},"x2":{"datum":246},"y":{"datum":0}}},
  {"data":{"name":"b1"},"mark":{"type":"line","strokeWidth":2.5},"encoding":{"x":{"field":"x","type":"quantitative","scale":{"domain":[0,246],"nice":false,"zero":false},"axis":{"orient":"bottom","title":null,"values":[0,30,61,91,122,153,181,212,242],"ticks":false,"tickSize":0,"domain":false,"labelPadding":23,"labelFontSize":14.5,"labelOverlap":false,"labelFlush":false,"labelExpr":"utcFormat(1535760000000 + datum.value*864e5, '%b')"}},"detail":{"field":"g"},"color":{"datum":"avg_eda_spread","scale":{"domain":["avg_eda_spread","soft limits"],"range":["#0000ff","#1a8a32"]},"legend":{"title":null,"columnPadding":72,"encode":{"symbols":{"update":{"strokeDash":{"signal":"datum.value == 'soft limits' ? [6,3] : [1,0]"},"shape":{"signal":"datum.value == 'soft limits' ? 'M-1,0H1' : 'M-1,0H1M-0.06,-0.06H0.06V0.06H-0.06Z'"}}}}}}}},
  {"data":{"name":"l1"},"mark":{"type":"line","strokeWidth":2.5,"strokeDash":[6,3]},"encoding":{"detail":{"field":"g"},"color":{"datum":"soft limits","scale":{"domain":["avg_eda_spread","soft limits"],"range":["#0000ff","#1a8a32"]}}}},
  {"data":{"name":"u1"},"mark":{"type":"line","strokeWidth":3.2},"encoding":{"detail":{"field":"g"},"color":{"datum":"soft limits","scale":{"domain":["avg_eda_spread","soft limits"],"range":["#0000ff","#1a8a32"]}}}}
 ]},
{"width":660,"height":150.5,
 "encoding":{
  "x":{"field":"x","type":"quantitative","scale":{"domain":[0,246],"nice":false,"zero":false},"axis":null},
  "y":{"field":"y","type":"quantitative","scale":{"domain":[-0.95,1.052],"nice":false,"zero":false},"axis":{"title":null,"values":[0.918,0.735,0.551,0.367,0.184,0,-0.184,-0.367,-0.551,-0.735,-0.918],"labelExpr":"indexof([0.918,0.551,0.184,-0.184,-0.551,-0.918], datum.value) >= 0 ? replace(format(datum.value,'.2f'),'\u2212','-') : ''"}}
 },
 "resolve":{"axis":{"x":"independent"}},
 "layer":[
  {"mark":{"type":"rule","color":"#6b6b6b","strokeWidth":3},"encoding":{"x":{"datum":0,"axis":{"orient":"bottom","offset":3,"title":null,"values":[0,3,6,9,12,15,18,21,24,27,30,33,36,39,42,45,48,51,54,57,60,63,66,69,72,75,78,81,84,87,90,93,96,99,102,105,108,111,114,117,120,123,126,129,132,135,138,141,144,147,150,153,156,159,162,165,168,171,174,177,180,183,186,189,192,195,198,201,204,207,210,213,216,219,222,225,228,231,234,237,240,243,246],"tickSize":6,"labelFontSize":11.5,"labelPadding":1,"labelOverlap":false,"labelFlush":false,"domainWidth":1.5,"labelExpr":"'' + utcdate(1535760000000 + datum.value*864e5)","labelColor":{"condition":{"test":"utcday(1535760000000 + datum.value*864e5) == 0","value":"#e8201e"},"value":"#333"}}},"x2":{"datum":246},"y":{"datum":0}}},
  {"data":{"name":"r2"},"mark":{"type":"line","strokeWidth":2.5,"color":"#ff1a1a"},"encoding":{"detail":{"field":"g"}}},
  {"data":{"name":"b2"},"mark":{"type":"line","strokeWidth":2.5},"encoding":{"x":{"field":"x","type":"quantitative","scale":{"domain":[0,246],"nice":false,"zero":false},"axis":{"orient":"bottom","title":null,"values":[0,30,61,91,122,153,181,212,242],"ticks":false,"tickSize":0,"domain":false,"labelPadding":23,"labelFontSize":14.5,"labelOverlap":false,"labelFlush":false,"labelExpr":"utcFormat(1535760000000 + datum.value*864e5, '%b')"}},"detail":{"field":"g"},"color":{"datum":"avg_pge","scale":{"domain":["avg_pge"],"range":["#0000ff"]},"legend":{"title":null}}}},
  {"data":{"name":"l2"},"mark":{"type":"line","strokeWidth":2.5,"strokeDash":[6,3],"color":"#1a8a32"},"encoding":{"detail":{"field":"g"}}},
  {"data":{"name":"u2"},"mark":{"type":"line","strokeWidth":3.2,"color":"#1a8a32"},"encoding":{"detail":{"field":"g"}}}
 ]},
{"width":660,"height":150.5,
 "encoding":{
  "x":{"field":"x","type":"quantitative","scale":{"domain":[0,246],"nice":false,"zero":false},"axis":null},
  "y":{"field":"y","type":"quantitative","scale":{"domain":[-292.3,1566.5],"nice":false,"zero":false},"axis":{"title":null,"values":[1517.53,1348.91,1180.3,1011.68,843.07,674.45,505.84,337.23,168.61,0,-168.61],"labelExpr":"indexof([1517.53,1180.3,843.07,505.84,168.61,-168.61], datum.value) >= 0 ? replace(format(datum.value,'.2f'),'\u2212','-') : ''"}}
 },
 "resolve":{"axis":{"x":"independent"}},
 "layer":[
  {"mark":{"type":"rule","color":"#6b6b6b","strokeWidth":3},"encoding":{"x":{"datum":0,"axis":{"orient":"bottom","offset":3,"title":null,"values":[0,3,6,9,12,15,18,21,24,27,30,33,36,39,42,45,48,51,54,57,60,63,66,69,72,75,78,81,84,87,90,93,96,99,102,105,108,111,114,117,120,123,126,129,132,135,138,141,144,147,150,153,156,159,162,165,168,171,174,177,180,183,186,189,192,195,198,201,204,207,210,213,216,219,222,225,228,231,234,237,240,243,246],"tickSize":6,"labelFontSize":11.5,"labelPadding":1,"labelOverlap":false,"labelFlush":false,"domainWidth":1.5,"labelExpr":"'' + utcdate(1535760000000 + datum.value*864e5)","labelColor":{"condition":{"test":"utcday(1535760000000 + datum.value*864e5) == 0","value":"#e8201e"},"value":"#333"}}},"x2":{"datum":246},"y":{"datum":0}}},
  {"data":{"name":"b3"},"mark":{"type":"line","strokeWidth":2.5},"encoding":{"x":{"field":"x","type":"quantitative","scale":{"domain":[0,246],"nice":false,"zero":false},"axis":{"orient":"bottom","title":null,"values":[0,30,61,91,122,153,181,212,242],"ticks":false,"tickSize":0,"domain":false,"labelPadding":23,"labelFontSize":14.5,"labelOverlap":false,"labelFlush":false,"labelExpr":"utcFormat(1535760000000 + datum.value*864e5, '%b')"}},"detail":{"field":"g"},"color":{"datum":"rms_fgdepar","scale":{"domain":["rms_fgdepar","rms_andepar"],"range":["#0000ff","#000000"]},"legend":{"title":null,"columnPadding":97}}}},
  {"data":{"name":"k3"},"mark":{"type":"line","strokeWidth":2.5},"encoding":{"detail":{"field":"g"},"color":{"datum":"rms_andepar","scale":{"domain":["rms_fgdepar","rms_andepar"],"range":["#0000ff","#000000"]}}}},
  {"data":{"name":"l3"},"mark":{"type":"line","strokeWidth":2.5,"strokeDash":[6,3],"color":"#1a8a32"},"encoding":{"detail":{"field":"g"}}},
  {"data":{"name":"u3"},"mark":{"type":"line","strokeWidth":3.2,"color":"#1a8a32"},"encoding":{"detail":{"field":"g"}}}
 ]},
{"width":660,"height":150.5,
 "encoding":{
  "x":{"field":"x","type":"quantitative","scale":{"domain":[0,246],"nice":false,"zero":false},"axis":null},
  "y":{"field":"y","type":"quantitative","scale":{"domain":[-384.6,1567],"nice":false,"zero":false},"axis":{"title":null,"values":[1419.31,1241.9,1064.48,887.07,709.66,532.24,354.83,177.41,0,-177.41,-354.83],"labelExpr":"indexof([1419.31,1064.48,709.66,354.83,0,-354.83], datum.value) >= 0 ? replace(format(datum.value,'.2f'),'\u2212','-') : ''"}}
 },
 "resolve":{"axis":{"x":"independent"}},
 "layer":[
  {"mark":{"type":"rule","color":"#6b6b6b","strokeWidth":3},"encoding":{"x":{"datum":0,"axis":{"orient":"bottom","offset":3,"title":null,"values":[0,3,6,9,12,15,18,21,24,27,30,33,36,39,42,45,48,51,54,57,60,63,66,69,72,75,78,81,84,87,90,93,96,99,102,105,108,111,114,117,120,123,126,129,132,135,138,141,144,147,150,153,156,159,162,165,168,171,174,177,180,183,186,189,192,195,198,201,204,207,210,213,216,219,222,225,228,231,234,237,240,243,246],"tickSize":6,"labelFontSize":11.5,"labelPadding":1,"labelOverlap":false,"labelFlush":false,"domainWidth":1.5,"labelExpr":"'' + utcdate(1535760000000 + datum.value*864e5)","labelColor":{"condition":{"test":"utcday(1535760000000 + datum.value*864e5) == 0","value":"#e8201e"},"value":"#333"}}},"x2":{"datum":246},"y":{"datum":0}}},
  {"data":{"name":"b4"},"mark":{"type":"line","strokeWidth":2.5},"encoding":{"x":{"field":"x","type":"quantitative","scale":{"domain":[0,246],"nice":false,"zero":false},"axis":{"orient":"bottom","title":null,"values":[0,30,61,91,122,153,181,212,242],"ticks":false,"tickSize":0,"domain":false,"labelPadding":23,"labelFontSize":14.5,"labelOverlap":false,"labelFlush":false,"labelExpr":"utcFormat(1535760000000 + datum.value*864e5, '%b')"}},"detail":{"field":"g"},"color":{"datum":"avg_fgdepar","scale":{"domain":["avg_fgdepar"],"range":["#0000ff"]},"legend":{"title":null}}}},
  {"data":{"name":"l4"},"mark":{"type":"line","strokeWidth":2.5,"strokeDash":[6,3],"color":"#1a8a32"},"encoding":{"detail":{"field":"g"}}},
  {"data":{"name":"u4"},"mark":{"type":"line","strokeWidth":3.2,"color":"#1a8a32"},"encoding":{"detail":{"field":"g"}}}
 ]},
{"width":660,"height":150.5,
 "encoding":{
  "x":{"field":"x","type":"quantitative","scale":{"domain":[0,246],"nice":false,"zero":false},"axis":null},
  "y":{"field":"y","type":"quantitative","scale":{"domain":[0,6.49],"nice":false,"zero":false},"axis":{"title":null,"values":[0,1,2,3,4,5,6],"labelExpr":"datum.value % 2 == 0 ? '' + datum.value : ''"}}
 },
 "resolve":{"axis":{"x":"independent"}},
 "layer":[
  {"data":{"name":"b5"},"mark":{"type":"line","strokeWidth":2.5},"encoding":{"x":{"field":"x","type":"quantitative","scale":{"domain":[0,246],"nice":false,"zero":false},"axis":{"orient":"bottom","title":null,"values":[0,30,61,91,122,153,181,212,242],"ticks":false,"tickSize":0,"domain":false,"labelPadding":23,"labelFontSize":14.5,"labelOverlap":false,"labelFlush":false,"labelExpr":"utcFormat(1535760000000 + datum.value*864e5, '%b')"}},"detail":{"field":"g"},"color":{"datum":"obs_number","scale":{"domain":["obs_number"],"range":["#0000ff"]},"legend":{"title":null}}}},
  {"data":{"name":"l5"},"mark":{"type":"line","strokeWidth":2.5,"strokeDash":[6,3],"color":"#1a8a32"},"encoding":{"detail":{"field":"g"}}},
  {"data":{"name":"u5"},"mark":{"type":"line","strokeWidth":3.2,"color":"#1a8a32"},"encoding":{"x":{"field":"x","type":"quantitative","scale":{"domain":[0,246],"nice":false,"zero":false},"axis":{"orient":"bottom","offset":3,"title":null,"values":[0,3,6,9,12,15,18,21,24,27,30,33,36,39,42,45,48,51,54,57,60,63,66,69,72,75,78,81,84,87,90,93,96,99,102,105,108,111,114,117,120,123,126,129,132,135,138,141,144,147,150,153,156,159,162,165,168,171,174,177,180,183,186,189,192,195,198,201,204,207,210,213,216,219,222,225,228,231,234,237,240,243,246],"tickSize":6,"labelFontSize":11.5,"labelPadding":1,"labelOverlap":false,"labelFlush":false,"domainWidth":1.5,"labelExpr":"'' + utcdate(1535760000000 + datum.value*864e5)","labelColor":{"condition":{"test":"utcday(1535760000000 + datum.value*864e5) == 0","value":"#e8201e"},"value":"#333"}}},"detail":{"field":"g"}}}
 ]}
]
}
